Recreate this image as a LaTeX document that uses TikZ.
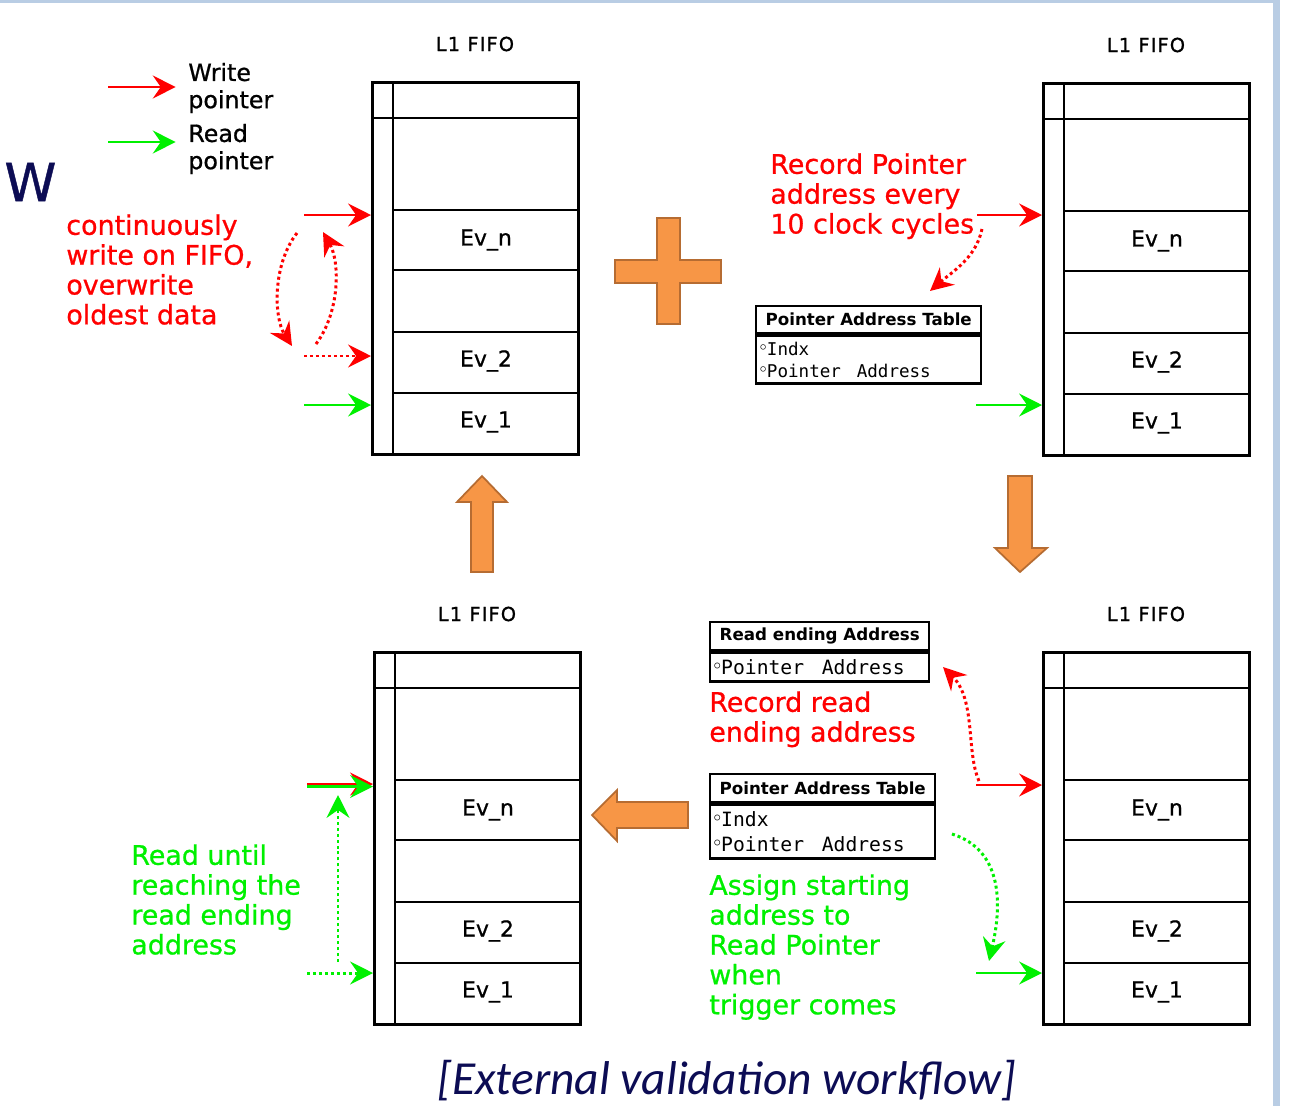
\documentclass[tikz,border=0pt]{standalone}
\usepackage{fontspec}
\setmainfont{DejaVu Sans}
\newfontfamily\txtfont[FakeBold=0.8]{DejaVu Sans}
\newfontfamily\monofont{DejaVu Sans Mono}
\newfontfamily\capfont{Carlito}
\newfontfamily\lblfont[LetterSpace=6,FakeBold=0.8]{DejaVu Sans}
\usetikzlibrary{arrows.meta,calc}

\definecolor{ptrred}{RGB}{255,0,0}
\definecolor{ptrgreen}{RGB}{0,240,0}
\definecolor{navy}{RGB}{12,12,84}
\definecolor{arrowfill}{RGB}{247,150,70}
\definecolor{arrowline}{RGB}{182,108,50}
\definecolor{framebl}{RGB}{185,205,228}

\newcommand{\cc}{\raisebox{0.45ex}{$\scriptstyle\circ$}}
\newcommand{\gap}{\hspace{0.9em}}

\tikzset{
  fifobox/.style={draw, line width=1.5pt, minimum width=4.12cm, minimum height=7.44cm, inner sep=0pt, anchor=north west},
  fifoline/.style={line width=1.3pt},
  evlabel/.style={font=\txtfont\fontsize{12.5}{15}\selectfont},
  fifotitle/.style={font=\lblfont\fontsize{11}{13}\selectfont},
  ptrhead/.style={-{Stealth[length=13pt,width=13pt,inset=4.5pt]}, line width=1.4pt},
  wptr/.style={ptrhead, draw=ptrred},
  rptr/.style={ptrhead, draw=ptrgreen},
  wdot/.style={wptr, line width=1.7pt, dash pattern=on 1.7pt off 1.7pt},
  rdot/.style={rptr, line width=1.7pt, dash pattern=on 1.7pt off 1.7pt},
  redtxt/.style={text=ptrred, font=\txtfont\fontsize{15.3}{17}\selectfont, align=left, anchor=north west, inner sep=0pt},
  greentxt/.style={redtxt, text=ptrgreen},
  legend/.style={font=\txtfont\fontsize{13.5}{15.5}\selectfont, align=left, anchor=west, inner sep=0pt},
  tblhead/.style={draw, line width=1.4pt, font=\bfseries\fontsize{9.5}{11}\selectfont, inner sep=2pt, anchor=north west},
  tblbody/.style={draw, line width=1.4pt, align=left, inner sep=2pt, anchor=north},
  bigarrow/.style={fill=arrowfill, draw=arrowline, line width=1pt},
}

% one L1 FIFO: #1 name, (#2,#3) top left corner in px
\newcommand{\fifo}[3]{%
  \node[fifobox] (#1) at (#2,#3) {};
  \draw[fifoline] (#2+22,#3) -- (#2+22,#3+372);
  \draw[fifoline] (#2,#3+37) -- (#2+206,#3+37);
  \foreach \yy in {129,189,251,312}
    \draw[fifoline] (#2+22,#3+\yy) -- (#2+206,#3+\yy);
  \node[evlabel] (#1-n) at (#2+115,#3+159) {Ev\_n};
  \node[evlabel] (#1-2) at (#2+115,#3+280) {Ev\_2};
  \node[evlabel] (#1-1) at (#2+115,#3+341) {Ev\_1};
  \node[fifotitle] (#1-t) at (#2+104,#3-37) {L1 FIFO};
}

\begin{document}
\begin{tikzpicture}[x=0.02cm,y=-0.02cm]
  \useasboundingbox (0,0) rectangle (1303,1106);
  % slide frame
  \fill[framebl] (0,0) rectangle (1280,3);
  \fill[framebl] (1273,0) rectangle (1280,1106);
  \node[font=\txtfont\fontsize{30}{36}\selectfont, text=navy, anchor=west, inner sep=0pt] (wlet) at (4,182) {W};

  % the four FIFOs
  \fifo{tl}{371}{81}
  \fifo{tr}{1042}{82}
  \fifo{bl}{373}{651}
  \fifo{br}{1042}{651}

  % legend
  \coordinate (lg-w) at (108,87);
  \coordinate (lg-r) at (108,142);
  \node[legend] (lg-wt) at (188,88) {Write\\pointer};
  \node[legend] (lg-rt) at (188,149) {Read\\pointer};
  \draw[wptr] (lg-w) -- ([xshift=-7pt]lg-wt.west |- lg-w);
  \draw[rptr] (lg-r) -- ([xshift=-7pt]lg-rt.west |- lg-r);

  % step 1: write continuously
  \node[redtxt] (tl-txt) at (66,214) {continuously\\write on FIFO,\\overwrite\\oldest data};
  \coordinate (tl-wp) at (304,215);
  \coordinate (tl-wd) at (304,356);
  \coordinate (tl-rp) at (304,405);
  \draw[wptr] (tl-wp) -- (tl.west |- tl-wp);
  \draw[wdot] (tl-wd) -- (tl.west |- tl-wd);
  \draw[rptr] (tl-rp) -- (tl.west |- tl-rp);
  \coordinate (tl-a) at (297,233);
  \coordinate (tl-b) at (292,346);
  \coordinate (tl-c) at (316,344);
  \coordinate (tl-d) at (323,232);
  \draw[wdot] (tl-a) .. controls (272,265) and (274,318) .. (tl-b);
  \draw[wdot] (tl-c) .. controls (340,312) and (340,262) .. (tl-d);

  % plus
  \draw[bigarrow] (657,218) -- (680,218) -- (680,260) -- (721,260) -- (721,283) -- (680,283)
    -- (680,324) -- (657,324) -- (657,283) -- (615,283) -- (615,260) -- (657,260) -- cycle;

  % step 2: record pointer address
  \node[redtxt] (tr-txt) at (770,153) {Record Pointer\\address every\\10 clock cycles};
  \coordinate (tr-wp) at (977,215);
  \coordinate (tr-rp) at (976,405);
  \draw[wptr] (tr-wp) -- (tr.west |- tr-wp);
  \draw[rptr] (tr-rp) -- (tr.west |- tr-rp);
  \node[tblhead, minimum width=4.5cm, minimum height=0.54cm] (pat1) at (755,305) {Pointer Address Table};
  \node[tblbody, text width=4.5cm-4pt, minimum height=0.96cm,
        font=\monofont\fontsize{10}{12.5}\selectfont] (pat1b) at (pat1.south) {\cc Indx\\\cc Pointer\gap Address};
  \coordinate (tr-c) at (982,229);
  \coordinate (tr-d) at (930,291);
  \draw[wdot] (tr-c) .. controls (976,258) and (952,272) .. (tr-d);

  % arrows between steps
  \draw[bigarrow] (1008,476) -- (1032,476) -- (1032,548) -- (1047,548) -- (1020,572)
    -- (995,548) -- (1008,548) -- cycle;
  \draw[bigarrow] (688,802) -- (688,828) -- (617,828) -- (617,841) -- (592,815)
    -- (617,790) -- (617,802) -- cycle;
  \draw[bigarrow] (471,572) -- (493,572) -- (493,502) -- (507,502) -- (482,476)
    -- (457,502) -- (471,502) -- cycle;

  % step 3: trigger comes
  \node[tblhead, minimum width=4.38cm, minimum height=0.56cm] (rea) at (709,621) {Read ending Address};
  \node[tblbody, text width=4.38cm-4pt, minimum height=0.58cm,
        font=\monofont\fontsize{11.2}{14}\selectfont] (reab) at (rea.south) {\cc Pointer\gap Address};
  \node[redtxt] (br-txt) at (709,691) {Record read\\ending address};
  \node[tblhead, minimum width=4.5cm, minimum height=0.56cm] (pat2) at (709,773) {Pointer Address Table};
  \node[tblbody, text width=4.5cm-4pt, minimum height=1.08cm,
        font=\monofont\fontsize{11.2}{14}\selectfont] (pat2b) at (pat2.south) {\cc Indx\\\cc Pointer\gap Address};
  \node[greentxt] (br-txt2) at (709,874) {Assign starting\\address to\\Read Pointer\\when\\trigger comes};
  \coordinate (br-wp) at (976,785);
  \coordinate (br-rp) at (976,973);
  \draw[wptr] (br-wp) -- (br.west |- br-wp);
  \draw[rptr] (br-rp) -- (br.west |- br-rp);
  \coordinate (br-a) at (979,781);
  \coordinate (br-b) at (943,667);
  \draw[wdot] (br-a) .. controls (966,752) and (976,700) .. (br-b);
  \coordinate (br-c) at (952,834);
  \coordinate (br-d) at (989,961);
  \draw[rdot] (br-c) .. controls (1003,850) and (1002,905) .. (br-d);

  % step 4: read out
  \node[greentxt] (bl-txt) at (131,844) {Read until\\reaching the\\read ending\\address};
  \coordinate (bl-wp) at (307,784);
  \coordinate (bl-rp) at (307,786.5);
  \coordinate (bl-rs) at (307,973);
  \draw[wptr] (bl-wp) -- (bl.west |- bl-wp);
  \draw[rptr] (bl-rp) -- (bl.west |- bl-rp);
  \draw[rdot] (bl-rs) -- (bl.west |- bl-rs);
  \coordinate (bl-e) at (338,962);
  \coordinate (bl-f) at (338,795);
  \draw[rdot] (bl-e) -- (bl-f);

  % caption
  \node[font=\capfont\itshape\fontsize{27}{32}\selectfont, text=navy, anchor=base] (cap) at (727,1094)
    {[External validation workflow]};
\end{tikzpicture}
\end{document}
